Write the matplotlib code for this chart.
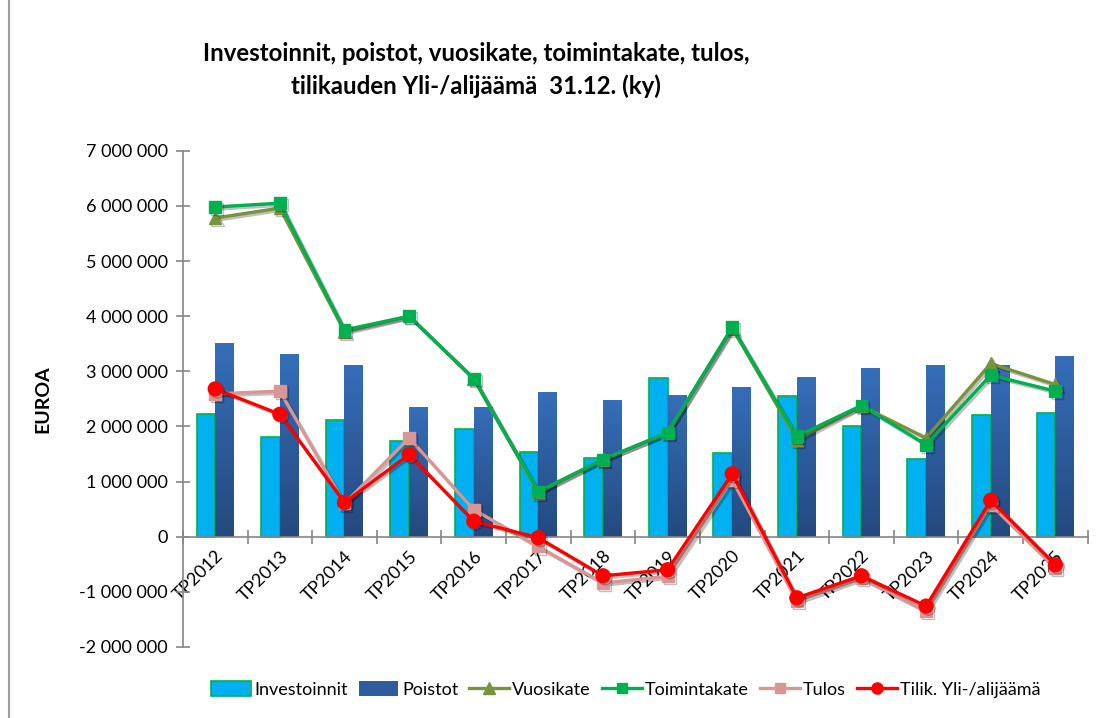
import numpy as np
import matplotlib
matplotlib.use("Agg")
import matplotlib.pyplot as plt
from matplotlib.ticker import FuncFormatter, FixedLocator
from matplotlib.lines import Line2D
from matplotlib.patches import Patch
from matplotlib.colors import LinearSegmentedColormap
import matplotlib.patheffects as pe

plt.rcParams['font.family'] = ['Lato', 'DejaVu Sans']

# data
years = ["TP2012", "TP2013", "TP2014", "TP2015", "TP2016", "TP2017", "TP2018",
         "TP2019", "TP2020", "TP2021", "TP2022", "TP2023", "TP2024", "TP2025"]
investoinnit = [2225000, 1800000, 2120000, 1730000, 1950000, 1540000, 1430000,
                2880000, 1520000, 2550000, 2000000, 1410000, 2210000, 2240000]
poistot = [3510000, 3320000, 3110000, 2350000, 2360000, 2620000, 2480000,
           2570000, 2710000, 2900000, 3060000, 3110000, 3110000, 3280000]
vuosikate = [5780000, 5960000, 3720000, 4000000, 2860000, 800000, 1400000,
             1880000, 3780000, 1760000, 2370000, 1790000, 3140000, 2760000]
toimintakate = [5980000, 6050000, 3750000, 4000000, 2870000, 820000, 1400000,
                1890000, 3800000, 1820000, 2380000, 1670000, 2930000, 2640000]
tulos = [2590000, 2640000, 600000, 1790000, 490000, -180000, -840000,
         -720000, 1030000, -1170000, -750000, -1350000, 580000, -570000]
yli_alijaama = [2680000, 2220000, 620000, 1490000, 280000, -20000, -710000,
                -600000, 1140000, -1110000, -710000, -1260000, 660000, -510000]

fig = plt.figure(figsize=(11.02, 7.18), dpi=100)
ax = fig.add_axes([0.166, 0.099, 0.821, 0.691])

x = np.arange(len(years))
w = 0.29

ax.bar(x - w / 2, investoinnit, w, color="#00B0F0", edgecolor="#00B050", linewidth=1.2, zorder=2)

# Poistot: vertical gradient
grad = np.linspace(0, 1, 256).reshape(-1, 1)
cmap = LinearSegmentedColormap.from_list("poistot", ["#24497E", "#356EB9"])
bars = ax.bar(x + w / 2, poistot, w, color="none", linewidth=0, zorder=2)
for b in bars:
    x0, y0 = b.get_x(), b.get_y()
    im = ax.imshow(grad, cmap=cmap, origin="lower", aspect="auto",
                   extent=[x0, x0 + b.get_width(), y0, y0 + b.get_height()], zorder=2)
    im.set_clip_path(b)

shadow = [pe.SimpleLineShadow(offset=(1.5, -1.5), alpha=0.25), pe.Normal()]
ax.plot(x, vuosikate, color="#77933C", marker="^", markersize=9, linewidth=2.4, zorder=3,
        path_effects=shadow)
ax.plot(x, toimintakate, color="#00B050", marker="s", markersize=8.5, linewidth=2.4, zorder=4,
        path_effects=shadow)
ax.plot(x, tulos, color="#D99694", marker="s", markersize=8.5, linewidth=2.4, zorder=5,
        path_effects=shadow)
ax.plot(x, yli_alijaama, color="#FF0000", marker="o", markersize=10, linewidth=2.4, zorder=6,
        path_effects=shadow)

ax.set_xlim(-0.5, len(years) - 0.5)
ax.set_ylim(-2000000, 7000000)
ax.set_yticks(np.arange(-2000000, 7000001, 1000000))
ax.yaxis.set_major_formatter(FuncFormatter(lambda v, p: f"{int(v):,}".replace(",", " ")))

axis_col = "#868686"
for s in ["top", "right"]:
    ax.spines[s].set_visible(False)
ax.spines["left"].set_color(axis_col)
ax.spines["bottom"].set_color(axis_col)
ax.spines["bottom"].set_position(("data", 0))
ax.spines["left"].set_linewidth(1.2)
ax.spines["bottom"].set_linewidth(1.2)

ax.set_xticks(x)
ax.set_xticklabels(years, rotation=45, ha="right", va="top", rotation_mode="anchor")
ax.tick_params(axis="x", which="major", length=0, pad=8, labelsize=13)
ax.xaxis.set_minor_locator(FixedLocator(np.arange(-0.5, len(years), 1.0)))
ax.tick_params(axis="x", which="minor", direction="inout", length=10, color=axis_col, width=1.2)
ax.tick_params(axis="y", direction="inout", length=10, color=axis_col, width=1.2,
               labelsize=13, pad=6)

ax.set_ylabel("EUROA", fontsize=14, fontweight="bold", labelpad=20)

fig.text(0.432, 0.926, "Investoinnit, poistot, vuosikate, toimintakate, tulos,",
         ha="center", va="center", fontsize=17.3, fontweight="bold")
fig.text(0.432, 0.880, "tilikauden Yli-/alijäämä  31.12. (ky)",
         ha="center", va="center", fontsize=17.3, fontweight="bold")

handles = [
    Patch(facecolor="#00B0F0", edgecolor="#00B050", linewidth=1.2, label="Investoinnit"),
    Patch(facecolor="#2E5C9C", label="Poistot"),
    Line2D([], [], color="#77933C", marker="^", markersize=8, linewidth=2.4, label="Vuosikate"),
    Line2D([], [], color="#00B050", marker="s", markersize=7, linewidth=2.4, label="Toimintakate"),
    Line2D([], [], color="#D99694", marker="s", markersize=7, linewidth=2.4, label="Tulos"),
    Line2D([], [], color="#FF0000", marker="o", markersize=8, linewidth=2.4, label="Tilik. Yli-/alijäämä"),
]
fig.legend(handles=handles, loc="center", bbox_to_anchor=(0.568, 0.04), ncol=6, frameon=False,
           fontsize=13, handlelength=2.2, handletextpad=0.2, columnspacing=0.6,
           handleheight=0.9)

fig.add_artist(Line2D([0.008, 0.008], [0, 1], color="#A0A0A0", linewidth=1.5,
                      transform=fig.transFigure))

fig.savefig("out.png", dpi=100)
